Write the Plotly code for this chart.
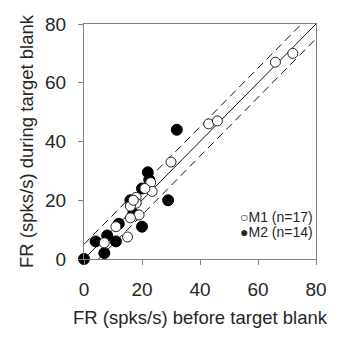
import plotly.graph_objects as go

# M1 (open circles) data
m1_before = [72, 66, 43, 46, 30, 23, 23.5, 21, 18, 18, 16, 19, 16, 11, 15, 7, 17]
m1_during = [70, 67, 46, 47, 33, 26, 23, 24, 21, 19, 18, 15, 14, 11, 7.5, 5.5, 20]

# M2 (filled circles) data
m2_before = [0, 7, 4, 11, 8, 12, 20, 17, 16, 20, 22.5, 22, 29, 32]
m2_during = [0, 2, 6, 6, 8, 12, 11, 15.5, 20, 24, 27, 29.5, 20, 44]

axis_max = 80
band = 5
tick_vals = [0, 20, 40, 60, 80]
legend_labels = ["M1 (n=17)", "M2 (n=14)"]

FONT = "Arial, Liberation Sans, sans-serif"
TXT = "#262626"

fig = go.Figure()

# unity line and +/- band
fig.add_trace(go.Scatter(x=[0, axis_max], y=[0, axis_max], mode="lines",
                         line=dict(color="#111", width=1), showlegend=False, hoverinfo="skip"))
fig.add_trace(go.Scatter(x=[0, axis_max - band], y=[band, axis_max], mode="lines",
                         line=dict(color="#111", width=1, dash="8px,5px"), showlegend=False, hoverinfo="skip"))
fig.add_trace(go.Scatter(x=[band, axis_max], y=[0, axis_max - band], mode="lines",
                         line=dict(color="#111", width=1, dash="8px,5px"), showlegend=False, hoverinfo="skip"))

fig.add_trace(go.Scatter(x=m2_before, y=m2_during, mode="markers", name=legend_labels[1],
                         marker=dict(size=11, color="black", line=dict(color="black", width=1)),
                         cliponaxis=False, showlegend=False))
fig.add_trace(go.Scatter(x=m1_before, y=m1_during, mode="markers", name=legend_labels[0],
                         marker=dict(size=10, color="white", line=dict(color="#222", width=1)),
                         cliponaxis=False, showlegend=False))

axis_common = dict(
    range=[0, axis_max], tickvals=tick_vals, ticks="outside", ticklen=5,
    tickcolor="#808080", showline=True, linecolor="#808080", linewidth=1,
    mirror=True, showgrid=False, zeroline=False,
    tickfont=dict(family=FONT, size=19, color=TXT),
    ticklabelstandoff=8,
)

fig.update_layout(
    width=339, height=337,
    margin=dict(l=84, r=16, t=24, b=73),
    paper_bgcolor="white", plot_bgcolor="white",
    font=dict(family=FONT, color=TXT),
    xaxis=dict(**axis_common,
               title=dict(text="FR (spks/s) before target blank",
                          font=dict(family=FONT, size=18.5, color=TXT), standoff=12)),
    yaxis=dict(**axis_common,
               title=dict(text="FR (spks/s) during target blank",
                          font=dict(family=FONT, size=18.5, color=TXT), standoff=6)),
    showlegend=False,
)

# legend drawn as text with circle glyphs
glyphs = ["○", "●"]
ys = [0.177, 0.113]
for g, lab, yy in zip(glyphs, legend_labels, ys):
    fig.add_annotation(
        xref="paper", yref="paper", x=1, y=yy, xanchor="right", yanchor="middle",
        xshift=-1, showarrow=False,
        text=f"<span style='font-size:14px'>{g}</span>{lab}",
        font=dict(family=FONT, size=14, color=TXT),
    )

fig.write_html("out.html")
